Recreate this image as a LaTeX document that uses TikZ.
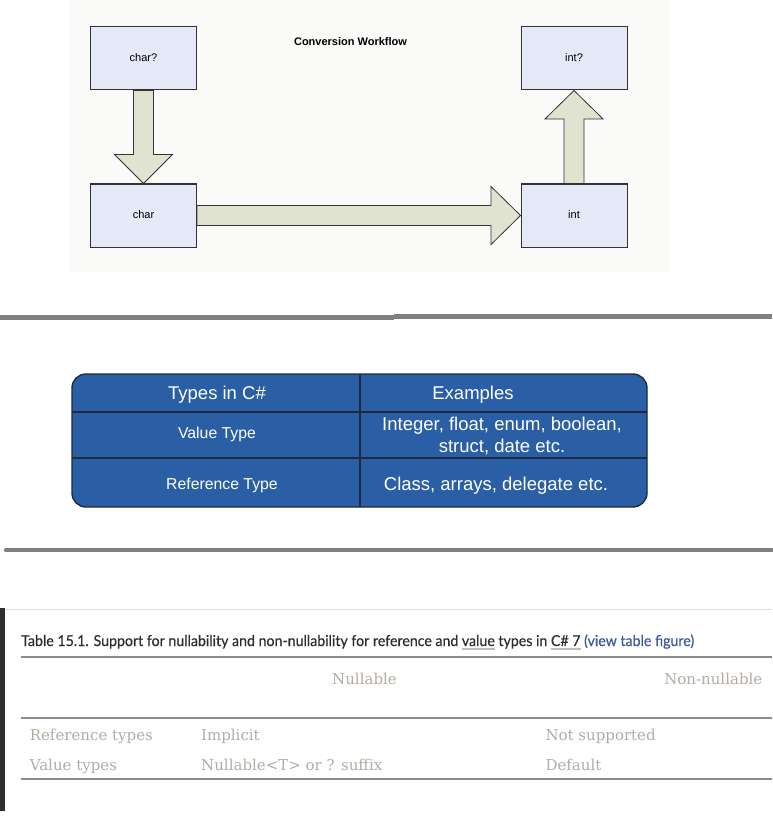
\documentclass[tikz,border=0pt]{standalone}
\usepackage{fontspec}
\usepackage{graphicx}
\setmainfont{Liberation Sans}
\newfontfamily\latof[FakeBold=0.5]{Lato}
\newfontfamily\seriff{DejaVu Serif}
\usetikzlibrary{calc}
\definecolor{pagebg}{HTML}{FAFBF8}
\definecolor{boxfill}{HTML}{E5E8F6}
\definecolor{boxline}{HTML}{333333}
\definecolor{arrowfill}{HTML}{DFE3CF}
\definecolor{rulegray}{HTML}{808080}
\definecolor{tblue}{HTML}{2B5FA5}
\definecolor{tline}{HTML}{1C2B40}
\definecolor{captext}{HTML}{2E2E2E}
\definecolor{linkblue}{HTML}{3D5A99}
\definecolor{ulgray}{HTML}{BBBBBB}
\definecolor{softgray}{HTML}{B4ACA4}
\definecolor{thinrule}{HTML}{8C8C8C}
\definecolor{barcol}{HTML}{2D3033}
\newcommand\gul[1]{\setbox0\hbox{#1}\rlap{\color{ulgray}\rule[-4.3pt]{\wd0}{2pt}}#1}
\tikzset{
  flowbox/.style={draw=boxline, line width=1pt, fill=boxfill, minimum width=106pt, minimum height=63pt, inner sep=0pt, font=\fontsize{11}{13}\selectfont},
  blockarrow/.style={draw=boxline, line width=0.8pt, fill=arrowfill, line join=miter},
  sep/.style={draw=rulegray, line width=4.5pt},
  wtxt/.style={text=white, inner sep=0pt, anchor=base},
  soft/.style={text=softgray, inner sep=0pt, anchor=base west, font=\seriff\fontsize{15}{18}\selectfont},
  hrule/.style={draw=thinrule, line width=1.2pt}
}
\begin{document}
\begin{tikzpicture}[x=1pt,y=-1pt]
\useasboundingbox (0,0) rectangle (772,829);
\fill[white] (0,0) rectangle (772,829);
% ---------- Section 1 ----------
\fill[pagebg] (69,0) rectangle (669,272);
\node[flowbox] (c1) at (143.5,58.5) {};
\node[flowbox] (c2) at (143.5,215.5) {};
\node[flowbox] (i1) at (574,58.5) {};
\node[flowbox] (i2) at (574,215.5) {};
\node[inner sep=0pt, anchor=base, font=\fontsize{11}{13}\selectfont] (c1t) at (143.5,61.3) {char?};
\node[inner sep=0pt, anchor=base, font=\fontsize{11}{13}\selectfont] (c2t) at (143.5,218.5) {char};
\node[inner sep=0pt, anchor=base, font=\fontsize{11}{13}\selectfont] (i1t) at (574,61.3) {int?};
\node[inner sep=0pt, anchor=base, font=\fontsize{11}{13}\selectfont] (i2t) at (574,218.5) {int};
\node[inner sep=0pt, anchor=base, font=\bfseries\fontsize{11}{13}\selectfont] (title) at (350.5,45.6) {Conversion Workflow};
% down arrow
\draw[blockarrow] ($(c1.south)+(-10,0)$) -- ($(c2.north)+(-10,-29)$) -- ($(c2.north)+(-29,-29)$) -- (c2.north)
  -- ($(c2.north)+(29,-29)$) -- ($(c2.north)+(10,-29)$) -- ($(c1.south)+(10,0)$) -- cycle;
% right arrow
\draw[blockarrow] ($(c2.east)+(0,-10)$) -- ($(i2.west)+(-29.5,-10)$) -- ($(i2.west)+(-29.5,-29)$) -- (i2.west)
  -- ($(i2.west)+(-29.5,29)$) -- ($(i2.west)+(-29.5,10)$) -- ($(c2.east)+(0,10)$) -- cycle;
% up arrow
\draw[blockarrow] ($(i2.north)+(-10,0)$) -- ($(i1.south)+(-10,28.5)$) -- ($(i1.south)+(-29,28.5)$) -- (i1.south)
  -- ($(i1.south)+(29,28.5)$) -- ($(i1.south)+(10,28.5)$) -- ($(i2.north)+(10,0)$) -- cycle;
% ---------- separators ----------
\draw[sep] (0,317.7) -- (394,317.7);
\draw[sep] (394,316.7) -- (772,316.7);
\draw[sep, line cap=round] (6,550) -- (772,550);
% ---------- Section 2 table ----------
\draw[fill=tblue, draw=tline, line width=1.4pt, rounded corners=14pt] (72,374) rectangle (647,507);
\draw[draw=tline, line width=1.4pt] (72,412) -- (647,412);
\draw[draw=tline, line width=1.4pt] (72,458) -- (647,458);
\draw[draw=tline, line width=1.4pt] (360,374) -- (360,507);
\node[wtxt, font=\fontsize{18.5}{22}\selectfont] (h1) at (217,399.2) {Types in C\#};
\node[wtxt, font=\fontsize{18.5}{22}\selectfont] (h2) at (473,399.2) {Examples};
\node[wtxt, font=\fontsize{15.8}{19}\selectfont] (r1a) at (217,438.8) {Value Type};
\node[wtxt, font=\fontsize{18.5}{22}\selectfont] (r1b) at (502,430.5) {Integer, float, enum, boolean,};
\node[wtxt, font=\fontsize{18.5}{22}\selectfont] (r1c) at (502,452.5) {struct, date etc.};
\node[wtxt, font=\fontsize{15.8}{19}\selectfont] (r2a) at (222,489) {Reference Type};
\node[wtxt, font=\fontsize{18.5}{22}\selectfont] (r2b) at (496,490) {Class, arrays, delegate etc.};
% ---------- Section 3 ----------
\draw[draw=black!12, line width=1pt] (5,609.3) -- (772,609.3);
\fill[barcol] (0,608) rectangle (5,811);
\node[inner sep=0pt, anchor=base west, text=captext, font=\latof\fontsize{15}{18}\selectfont] (cap) at (21,646)
  {\resizebox{673pt}{\height}{Table 15.1. Support for nullability and non-nullability for reference and \gul{value} types in \gul{C\# 7} \textcolor{linkblue}{(view table figure)}}};
\draw[hrule] (21,657) -- (772,657);
\draw[hrule] (21,718) -- (772,718);
\draw[hrule] (21,779) -- (772,779);
\node[soft, anchor=base] (nl) at (364.5,684) {Nullable};
\node[soft, anchor=base east] (nn) at (762.5,684) {Non-nullable};
\node[soft] (rt) at (29.6,740) {Reference types};
\node[soft] (ri) at (201,740) {Implicit};
\node[soft] (rn) at (545.3,740) {Not supported};
\node[soft] (vt) at (29.6,770) {Value types};
\node[soft] (vn) at (201,770) {Nullable<T> or ? suffix};
\node[soft] (vd) at (545.3,770) {Default};
\end{tikzpicture}
\end{document}
